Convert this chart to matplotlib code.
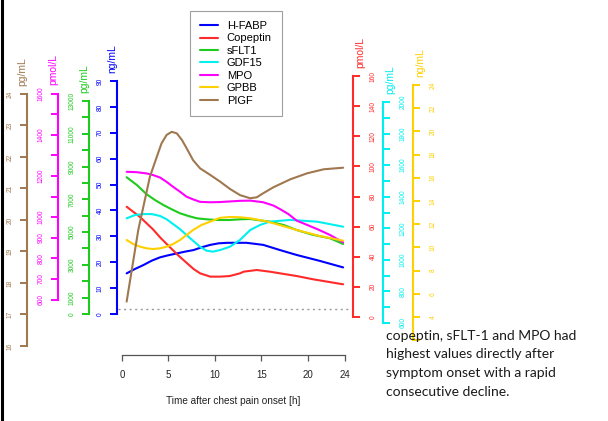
import matplotlib
matplotlib.use("Agg")
import matplotlib.pyplot as plt
import matplotlib.transforms as mtransforms
from matplotlib.lines import Line2D

plt.rcParams['font.family'] = ['Liberation Sans', 'DejaVu Sans']

# ---- data ----
series_names = ["H-FABP", "Copeptin", "sFLT1", "GDF15", "MPO", "GPBB", "PIGF"]
units = ["ng/mL", "pmol/L", "pg/mL", "pg/mL", "pmol/L", "ng/mL", "pg/mL"]

t_hfabp = [0.5, 1.4, 2.3, 3.2, 4.1, 5.0, 5.9, 6.8, 7.7, 8.6, 9.5, 10.4, 11.3, 12.7, 13.4, 15.2, 17.0, 18.8, 21.3, 23.8]
v_hfabp = [15.7, 17.4, 18.9, 20.6, 21.9, 22.7, 23.4, 24.1, 24.7, 25.8, 26.7, 27.3, 27.5, 27.5, 27.5, 26.7, 24.7, 22.8, 20.5, 18.0]

t_copeptin = [0.5, 1.9, 3.3, 4.2, 5.1, 6.0, 7.0, 7.7, 8.4, 9.5, 10.6, 11.6, 12.7, 13.1, 14.5, 15.9, 17.0, 18.8, 20.6, 23.8]
v_copeptin = [73.2, 66.6, 58.4, 52.2, 46.7, 41.2, 35.7, 31.9, 29.0, 26.8, 26.8, 27.2, 29.0, 30.1, 31.2, 30.1, 29.0, 27.2, 25.0, 21.7]

t_sflt1 = [0.5, 1.6, 2.65, 3.55, 4.45, 5.35, 6.25, 7.15, 8.05, 9.1, 10.2, 11.6, 12.7, 13.8, 15.9, 17.4, 18.8, 20.4, 22.4, 23.8]
v_sflt1 = [8346, 7873, 7305, 6957, 6652, 6390, 6146, 5981, 5841, 5780, 5737, 5737, 5780, 5798, 5633, 5432, 5127, 4852, 4620, 4272]

t_gdf15 = [0.5, 1.4, 2.3, 3.2, 4.1, 4.8, 5.5, 6.25, 6.95, 7.65, 8.4, 9.1, 9.8, 10.55, 11.6, 12.7, 13.8, 14.85, 15.9, 18.1, 21.0, 23.8]
v_gdf15 = [1263, 1284, 1290, 1290, 1278, 1257, 1227, 1194, 1157, 1121, 1083, 1058, 1052, 1062, 1083, 1126, 1189, 1221, 1242, 1253, 1242, 1210]

t_mpo = [0.5, 1.6, 2.65, 3.35, 4.1, 4.8, 5.5, 6.25, 6.95, 7.65, 8.4, 9.5, 10.55, 11.6, 12.7, 13.8, 15.2, 16.3, 17.0, 17.9, 18.8, 21.0, 22.4, 23.8]
v_mpo = [1220, 1218, 1212, 1204, 1192, 1171, 1147, 1123, 1099, 1086, 1074, 1072, 1073, 1076, 1079, 1080, 1072, 1056, 1039, 1015, 983, 942, 913, 877]

t_gpbb = [0.5, 1.2, 1.95, 2.65, 3.35, 4.1, 4.8, 5.5, 6.25, 6.95, 7.65, 8.55, 9.5, 10.55, 11.6, 12.7, 13.8, 15.2, 16.3, 18.8, 21.3, 23.8]
v_gpbb = [10.64, 10.29, 10.06, 9.92, 9.86, 9.92, 10.06, 10.29, 10.64, 11.07, 11.5, 11.93, 12.22, 12.55, 12.62, 12.6, 12.51, 12.3, 12.08, 11.5, 10.98, 10.58]

t_pigf = [0.5, 1.75, 3.0, 3.75, 4.25, 4.8, 5.35, 5.9, 6.45, 6.95, 7.65, 8.4, 9.5, 10.55, 11.6, 12.7, 13.8, 14.5, 15.2, 16.3, 18.1, 19.9, 21.7, 23.8]
v_pigf = [17.41, 19.68, 21.37, 22.01, 22.43, 22.70, 22.80, 22.75, 22.54, 22.28, 21.90, 21.64, 21.43, 21.22, 20.99, 20.79, 20.69, 20.72, 20.85, 21.04, 21.29, 21.48, 21.61, 21.66]

x_ticks = [0, 5, 10, 15, 20, 24]
ref_level = 1.9  # dotted line, H-FABP scale

# axis tick values / labels
ticks_hfabp = list(range(0, 91, 10))
ticks_copeptin = list(range(0, 161, 20))
ticks_sflt1 = list(range(0, 13001, 1000))
lab_sflt1 = [str(v) if v in (0, 1000, 3000, 5000, 7000, 9000, 11000, 13000) else "" for v in ticks_sflt1]
ticks_gdf15 = list(range(600, 2001, 100))
lab_gdf15 = [str(v) if v % 200 == 0 else "" for v in ticks_gdf15]
ticks_mpo = list(range(600, 1601, 100))
lab_mpo = [str(v) if v in (600, 700, 800, 900, 1000, 1200, 1400, 1600) else "" for v in ticks_mpo]
ticks_gpbb = list(range(2, 25, 2))
lab_gpbb = [str(v) if v > 2 else "" for v in ticks_gpbb]   # "2" hidden under the slide text
ticks_pigf = list(range(16, 25))

# ---- layout (pixels of the 608x421 picture, y downwards) ----
W, H = 608, 421
X0, X1 = 113, 354      # plot box
YB, YT = 355, 70
PX0, PX24 = 122, 345   # x = 0 and x = 24

cols = ["#0000FF", "#FF2A2A", "#1DCB1D", "#00F0F0", "#FF00FF", "#FFD000", "#A07850"]
# spine x, side, (value, pixel) low, (value, pixel) high
axspec = [
    (117, "left", (0, 314), (90, 81)),
    (353, "right", (0, 317), (160, 76)),
    (89, "left", (0, 314), (13000, 101)),
    (383, "right", (600, 323), (2000, 102)),
    (58, "left", (600, 299.5), (1600, 93.5)),
    (413, "right", (4, 317), (24, 85)),
    (27, "left", (16, 346), (24, 94)),
]
tick_sets = [(ticks_hfabp, None), (ticks_copeptin, None), (ticks_sflt1, lab_sflt1),
             (ticks_gdf15, lab_gdf15), (ticks_mpo, lab_mpo), (ticks_gpbb, lab_gpbb),
             (ticks_pigf, None)]
curves = [(t_hfabp, v_hfabp), (t_copeptin, v_copeptin), (t_sflt1, v_sflt1),
          (t_gdf15, v_gdf15), (t_mpo, v_mpo), (t_gpbb, v_gpbb), (t_pigf, v_pigf)]


def ylim_from(lo, hi):
    (v1, p1), (v2, p2) = lo, hi
    s = (v2 - v1) / (p1 - p2)
    return v1 - (YB - p1) * s, v1 + (p1 - YT) * s


fig = plt.figure(figsize=(W / 100, H / 100), dpi=100)
fig.patch.set_facecolor("white")
ax = fig.add_axes([X0 / W, 1 - YB / H, (X1 - X0) / W, (YB - YT) / H])
pph = (PX24 - PX0) / 24
ax.set_xlim(-(PX0 - X0) / pph, 24 + (X1 - PX24) / pph)

handles = []
for i, name in enumerate(series_names):
    a = ax if i == 0 else ax.twinx()
    a.patch.set_visible(False)
    sx, side, lo, hi = axspec[i]
    a.set_ylim(*ylim_from(lo, hi))
    for s in a.spines.values():
        s.set_visible(False)
    sp = a.spines[side]
    sp.set_visible(True)
    sp.set_position(("axes", (sx - X0) / (X1 - X0)))
    ticks, labs = tick_sets[i]
    sp.set_bounds(ticks[0], ticks[-1])
    sp.set_color(cols[i])
    sp.set_linewidth(1.5)
    if side == "left":
        a.yaxis.tick_left()
    else:
        a.yaxis.tick_right()
    a.set_yticks(ticks)
    a.set_yticklabels(labs if labs else [str(v) for v in ticks])
    a.tick_params(axis="y", colors=cols[i], direction="out", length=5, width=1.4,
                  labelsize=4.8, pad=4.5 if side == "left" else 7)
    for lab in a.get_yticklabels():
        lab.set_rotation(90)
        lab.set_va("center")
    tr = mtransforms.blended_transform_factory(a.transAxes, a.transData)
    a.annotate(units[i], xy=((sx - X0) / (X1 - X0), ticks[-1]), xycoords=tr,
               xytext=(-3.6 if side == "left" else 5.4, 6), textcoords="offset points",
               rotation=90, ha="center", va="bottom", color=cols[i], fontsize=7.5,
               annotation_clip=False)
    t, v = curves[i]
    ln, = a.plot(t, v, color=cols[i], lw=1.5, solid_capstyle="round", solid_joinstyle="round")
    handles.append(ln)
    if i == 0:
        a.axhline(ref_level, xmin=0.02, xmax=0.985, color="#999999", lw=1.0, ls=(0, (1.5, 2.5)))

# x axis
ax.spines["bottom"].set_visible(True)
ax.spines["bottom"].set_bounds(0, 24)
ax.spines["bottom"].set_color("#555555")
ax.spines["bottom"].set_linewidth(0.9)
ax.set_xticks(x_ticks)
ax.tick_params(axis="x", colors="#555555", direction="out", length=4.5, width=0.9,
               labelsize=7, pad=6.5, labelcolor="#222222")
ax.set_xlabel("Time after chest pain onset [h]", fontsize=7.2, color="#222222", labelpad=11)

leg = fig.legend(handles, series_names, loc="upper left", bbox_to_anchor=(190 / W, 1 - 11 / H),
                 frameon=True, fancybox=False, edgecolor="#888888", fontsize=8,
                 handlelength=1.6, handletextpad=0.8, labelspacing=0.22, borderpad=0.9,
                 borderaxespad=0)
leg.get_frame().set_linewidth(0.8)

# slide text
lines = ["copeptin, sFLT-1 and MPO had", "highest values directly after",
         "symptom onset with a rapid", "consecutive decline."]
for k, s in enumerate(lines):
    fig.text(386 / W, 1 - (340 + 18.5 * k) / H, s, fontsize=10, family=["Lato", "DejaVu Sans"],
             color="#1a1a1a", va="baseline", ha="left")

fig.add_artist(Line2D([1.5 / W, 1.5 / W], [0, 1], transform=fig.transFigure, color="black", lw=2.2))

fig.savefig("out.png", dpi=100, facecolor="white")
